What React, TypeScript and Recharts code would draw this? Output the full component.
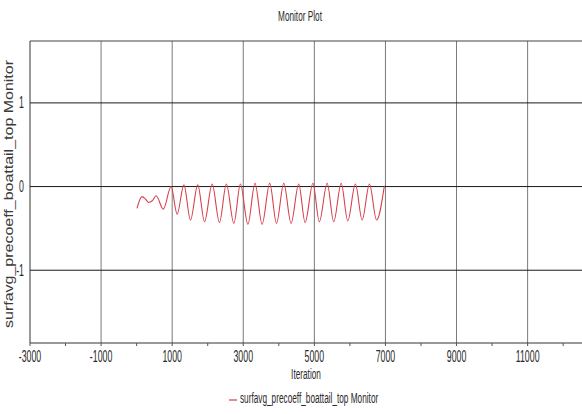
import { LineChart, Line, XAxis, YAxis, Legend, ReferenceLine, Label } from 'recharts'

// monitor samples: iteration number and the surface-averaged pressure coefficient
const iterations = [
  10, 150, 250, 340, 440, 550, 750, 970,
  1140, 1330, 1515, 1720, 1910, 2125, 2330, 2525, 2735, 2920,
  3130, 3330, 3530, 3745, 3935, 4140, 4345, 4560, 4740, 4960,
  5140, 5360, 5545, 5755, 5940, 6155, 6345, 6550, 6750, 6970,
]
const monitorValues = [
  -0.26, -0.12, -0.15, -0.19, -0.17, -0.11, -0.27, 0.0,
  -0.33, 0.02, -0.4, 0.02, -0.42, 0.03, -0.43, 0.03, -0.44, 0.03,
  -0.45, 0.04, -0.45, 0.04, -0.44, 0.04, -0.44, 0.03, -0.43, 0.04,
  -0.42, 0.04, -0.42, 0.04, -0.41, 0.03, -0.4, 0.03, -0.4, 0.01,
]

const xTicks = [
  -3000, -2000, -1000, 0, 1000, 2000, 3000, 4000, 5000, 6000, 7000, 8000, 9000, 10000, 11000, 12000,
]
const xGridLines = [-1000, 1000, 3000, 5000, 7000, 9000, 11000]
const yTicks = [-1.5, -1, -0.5, 0, 0.5, 1, 1.5]
const yGridLines = [-1, 0, 1]

const X_DOMAIN: [number, number] = [-3000, 12530]
const Y_DOMAIN: [number, number] = [-1.87, 1.74]

const SERIES_NAME = 'surfavg_precoeff_boattail_top Monitor'
const LINE_COLOR = '#d6404c'
const TEXT_COLOR = '#2a2a2a'
const FONT = '"Liberation Sans", Arial, sans-serif'
const SQUEEZE = 0.55

const data = iterations.map((it, i) => ({ iteration: it, value: monitorValues[i] }))

// condensed label text, squeezed horizontally around its anchor
function NarrowText({ x, y, anchor = 'middle', size = 16, children }: any) {
  return (
    <text
      transform={`translate(${x},${y}) scale(${SQUEEZE},1)`}
      textAnchor={anchor}
      fontSize={size}
      fontFamily={FONT}
      fill={TEXT_COLOR}
    >
      {children}
    </text>
  )
}

function XTick({ x, y, payload }: any) {
  if (payload.value % 2000 === 0) return <g />
  return (
    <NarrowText x={x} y={y + 14}>
      {payload.value}
    </NarrowText>
  )
}

function YTick({ x, y, payload }: any) {
  if (!Number.isInteger(payload.value)) return <g />
  return (
    <NarrowText x={x} y={y + 5.5} anchor="end">
      {payload.value}
    </NarrowText>
  )
}

function renderLegend({ payload }: any) {
  const item = payload && payload[0]
  if (!item) return null
  return (
    <svg width={582} height={26} style={{ display: 'block' }}>
      <line x1={229} x2={237} y1={12} y2={12} stroke={item.color} strokeWidth={1.2} />
      <NarrowText x={240} y={15} anchor="start" size={15}>
        {item.value}
      </NarrowText>
    </svg>
  )
}

export default function App() {
  return (
    <div style={{ position: 'absolute', left: 0, top: 0, width: 582, height: 414, background: '#fff' }}>
      <svg width={582} height={30} style={{ position: 'absolute', left: 0, top: 0 }}>
        <NarrowText x={300} y={21} size={15}>
          Monitor Plot
        </NarrowText>
      </svg>
      <LineChart width={582} height={414} data={data} margin={{ top: 41, right: 0, bottom: 0, left: 0 }}>
        <XAxis
          dataKey="iteration"
          type="number"
          domain={X_DOMAIN}
          ticks={xTicks}
          interval={0}
          allowDataOverflow
          height={45}
          tickSize={3}
          tickMargin={2}
          tick={<XTick />}
          stroke="#333"
          tickLine={{ stroke: '#555' }}
        >
          <Label
            content={({ viewBox }: any) => (
              <NarrowText x={viewBox.x + viewBox.width / 2} y={379} size={15}>
                Iteration
              </NarrowText>
            )}
          />
        </XAxis>
        <YAxis
          type="number"
          domain={Y_DOMAIN}
          ticks={yTicks}
          interval={0}
          allowDataOverflow
          width={30}
          tickLine={false}
          tickSize={4}
          tickMargin={2}
          tick={<YTick />}
          stroke="#333"
        >
          <Label
            content={({ viewBox }: any) => (
              <text
                transform={`translate(13,${viewBox.y + viewBox.height / 2 + 2}) rotate(-90) scale(1,0.75)`}
                textAnchor="middle"
                fontSize={16}
                fontFamily={FONT}
                fill="#3a3a3a"
              >
                {SERIES_NAME}
              </text>
            )}
          />
        </YAxis>
        {xGridLines.map((v) => (
          <ReferenceLine key={`gx${v}`} x={v} stroke="#7a7a7a" strokeWidth={1} />
        ))}
        {yGridLines.map((v) => (
          <ReferenceLine key={`gy${v}`} y={v} stroke="#1a1a1a" strokeWidth={1} />
        ))}
        <ReferenceLine y={Y_DOMAIN[1]} stroke="#444" strokeWidth={1.2} />
        <Legend verticalAlign="bottom" height={26} content={renderLegend} />
        <Line
          type="monotone"
          dataKey="value"
          name={SERIES_NAME}
          stroke={LINE_COLOR}
          strokeWidth={1.1}
          dot={false}
          isAnimationActive={false}
        />
      </LineChart>
    </div>
  )
}
